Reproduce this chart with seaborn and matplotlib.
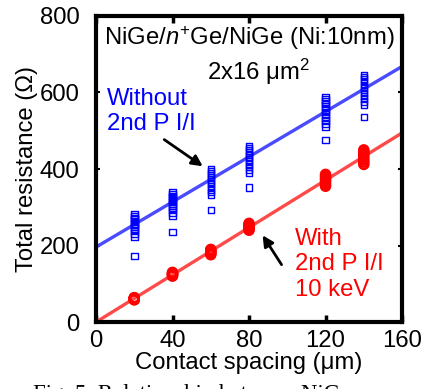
import numpy as np
import pandas as pd
import matplotlib
matplotlib.use("Agg")
import matplotlib.pyplot as plt
import seaborn as sns

# contact spacing (um)
spacing = [20, 40, 60, 80, 120, 140]

# total resistance (ohm), without 2nd P I/I (open squares)
without_20 = [281, 277, 272, 268, 263, 258, 254, 249, 244, 238, 231, 224, 173]
without_40 = [340, 335, 330, 325, 320, 315, 310, 305, 299, 293, 286, 278, 235]
without_60 = [400, 395, 390, 385, 379, 373, 367, 361, 354, 347, 340, 333, 293]
without_80 = [460, 455, 449, 443, 437, 431, 425, 419, 412, 405, 397, 390, 352]
without_120 = [588, 582, 576, 570, 563, 556, 549, 542, 535, 527, 519, 511, 476]
without_140 = [646, 640, 634, 627, 620, 613, 606, 599, 591, 584, 576, 568, 536]

# total resistance (ohm), with 2nd P I/I 10 keV (circles)
with_20 = [58, 60, 62, 63, 64, 61, 59]
with_40 = [120, 122, 124, 126, 128, 130, 125]
with_60 = [176, 179, 182, 185, 188, 190, 184]
with_80 = [240, 243, 246, 249, 252, 255, 258, 247]
with_120 = [355, 360, 365, 370, 374, 378, 382, 386]
with_140 = [412, 418, 424, 430, 436, 441, 446, 450]

# linear fits (slope, intercept)
without_fit = (2.95, 196)
with_fit = (3.09, 0)

fit_x = [0, 160]


def to_frame(groups):
    rows = []
    for x, vals in zip(spacing, groups):
        for v in vals:
            rows.append({'spacing': x, 'resistance': v})
    return pd.DataFrame(rows)


df_without = to_frame([without_20, without_40, without_60, without_80, without_120, without_140])
df_with = to_frame([with_20, with_40, with_60, with_80, with_120, with_140])

sns.set_style('ticks')
plt.rcParams['font.family'] = ['Liberation Sans', 'DejaVu Sans']
plt.rcParams['mathtext.fontset'] = 'custom'
plt.rcParams['mathtext.it'] = 'Liberation Sans:italic'
plt.rcParams['mathtext.rm'] = 'Liberation Sans'
plt.rcParams['text.color'] = 'black'
plt.rcParams['axes.labelcolor'] = 'black'
plt.rcParams['xtick.color'] = 'black'
plt.rcParams['ytick.color'] = 'black'

fig = plt.figure(figsize=(4.21, 3.89), dpi=100)
ax = fig.add_axes([0.228, 0.172, 0.727, 0.787])

blue = '#0000ff'
red = '#ff0000'
fs = 17.2

# fit lines
fx = np.array(fit_x)
sns.lineplot(x=fx, y=without_fit[0] * fx + without_fit[1], ax=ax, color='#4a4aff', lw=2.4, zorder=2)
sns.lineplot(x=fx, y=with_fit[0] * fx + with_fit[1], ax=ax, color='#ff4a4a', lw=2.4, zorder=2)

sns.scatterplot(data=df_without, x='spacing', y='resistance', ax=ax, marker='s', s=22,
                facecolor='none', edgecolor=blue, linewidth=1.0, zorder=3)
sns.scatterplot(data=df_with, x='spacing', y='resistance', ax=ax, marker='o', s=42,
                facecolor='none', edgecolor=red, linewidth=1.8, zorder=3)

ax.set_xlim(0, 160)
ax.set_ylim(0, 800)
ax.set_xticks([0, 40, 80, 120, 160])
ax.set_yticks([0, 200, 400, 600, 800])
ax.tick_params(axis='both', direction='in', labelsize=fs, width=2.5, length=5,
               top=True, right=True)
ax.tick_params(axis='x', pad=6)
ax.tick_params(axis='y', length=3, width=1.5, pad=12)
for sp in ax.spines.values():
    sp.set_linewidth(3)
    sp.set_color('black')

ax.set_xlabel('Contact spacing (\u03bcm)', fontsize=fs, labelpad=0)
ax.set_ylabel('Total resistance (\u03a9)', fontsize=fs, labelpad=1,
              family=['Liberation Sans Narrow', 'Liberation Sans'])

ax.text(0.5, 0.905, 'NiGe/$n^{+}$Ge/NiGe (Ni:10nm)', transform=ax.transAxes,
        ha='center', va='baseline', fontsize=fs)
ax.text(0.53, 0.792, '2x16 \u03bcm$^{2}$', transform=ax.transAxes,
        ha='center', va='baseline', fontsize=fs)
ax.text(5.5, 612, 'Without\n2nd P I/I', color=blue, fontsize=fs, va='top',
        linespacing=1.2)
ax.text(104, 246, 'With\n2nd P I/I\n10 keV', color=red, fontsize=fs, va='top',
        linespacing=1.2)

ax.annotate('', xy=(57, 403), xytext=(34.5, 481),
            arrowprops=dict(arrowstyle='-|>', color='black', lw=2, mutation_scale=16))
ax.annotate('', xy=(86.3, 233), xytext=(97.8, 144),
            arrowprops=dict(arrowstyle='-|>', color='black', lw=2, mutation_scale=16))

# caption, cut off at the bottom edge as in the source
fig.text(0.078, 0.012, 'Fig. 5. Relationship between NiGe', family='Liberation Serif',
         fontsize=16.5, va='top', ha='left')

fig.savefig('out.png', dpi=100)
